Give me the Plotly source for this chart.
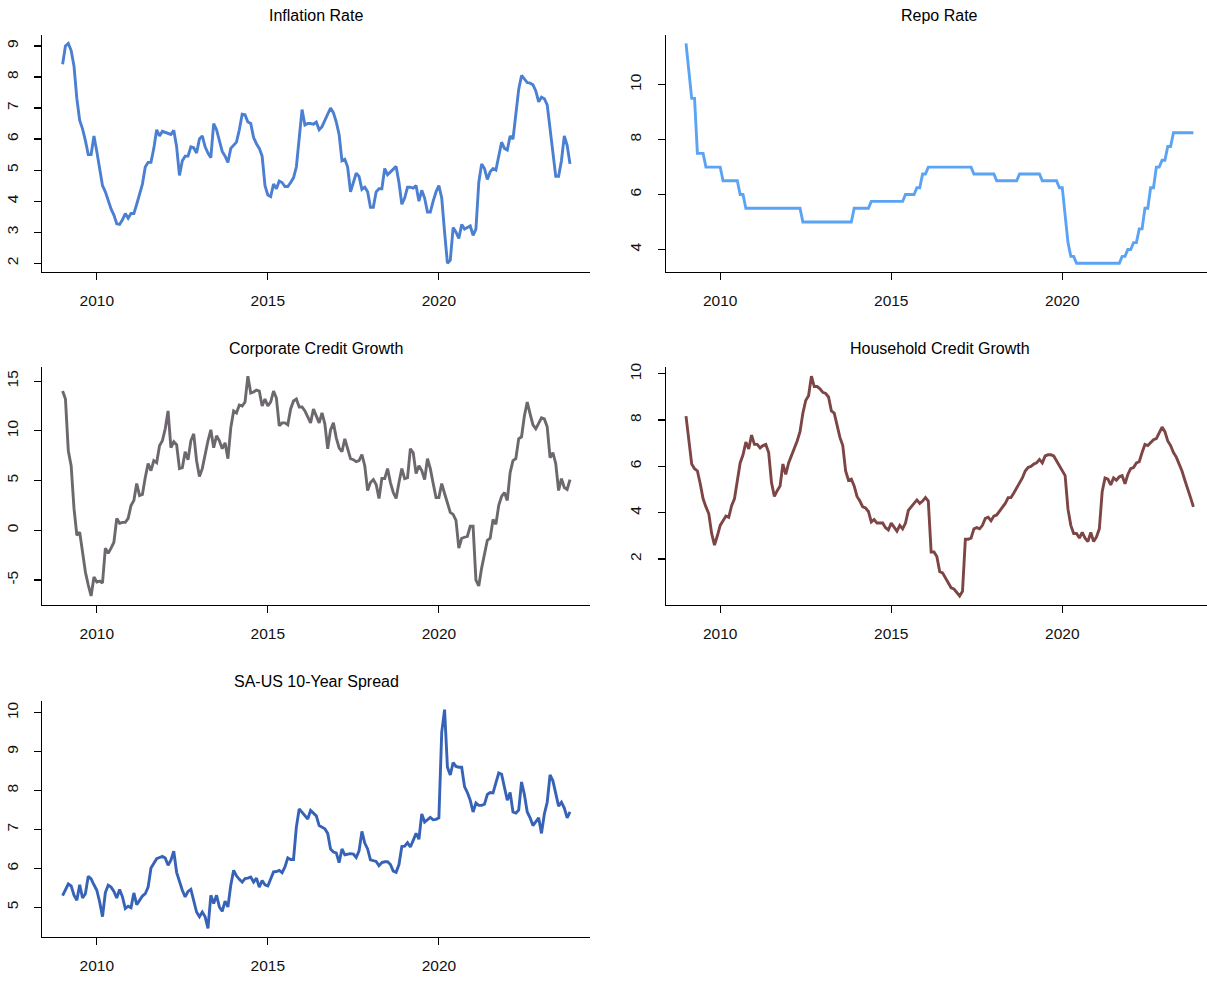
import plotly.graph_objects as go

# ---------------- data (monthly, Jan 2009 - Nov 2023) ----------------
start_year = 2009
tick_years = [2010, 2015, 2020]

inflation = [
    8.41, 9.0, 9.08, 8.85, 8.35, 7.3, 6.6, 6.33, 5.95, 5.5, 5.5, 6.1,
    5.6, 5.0, 4.5, 4.3, 4.0, 3.75, 3.55, 3.27, 3.25, 3.4, 3.6, 3.45,
    3.6, 3.6, 3.9, 4.2, 4.55, 5.1, 5.25, 5.25, 5.7, 6.3, 6.1, 6.25,
    6.22, 6.2, 6.15, 6.28, 5.75, 4.83, 5.3, 5.45, 5.45, 5.75, 5.72, 5.55,
    6.0, 6.1, 5.75, 5.55, 5.4, 6.5, 6.3, 5.95, 5.6, 5.45, 5.25, 5.7,
    5.8, 5.9, 6.3, 6.8, 6.78, 6.55, 6.5, 6.05, 5.85, 5.7, 5.45, 4.5,
    4.2, 4.15, 4.55, 4.4, 4.65, 4.6, 4.47, 4.47, 4.6, 4.75, 5.1, 6.0,
    6.95, 6.45, 6.5, 6.5, 6.48, 6.55, 6.3, 6.4, 6.6, 6.85, 7.0, 6.85,
    6.55, 6.15, 5.3, 5.35, 5.1, 4.3, 4.6, 4.9, 4.8, 4.38, 4.45, 4.3,
    3.8, 3.8, 4.3, 4.4, 4.4, 5.05, 4.85, 4.95, 5.05, 5.12, 4.6, 3.9,
    4.1, 4.45, 4.45, 4.42, 4.5, 4.0, 4.35, 4.1, 3.65, 3.65, 4.0, 4.3,
    4.5, 4.1, 3.0, 2.0, 2.1, 3.15, 3.0, 2.8, 3.25, 3.1, 3.15, 3.2,
    2.9, 3.1, 4.6, 5.2, 5.05, 4.7, 4.95, 5.05, 5.0, 5.45, 5.9, 5.7,
    5.65, 6.1, 6.0, 6.8, 7.6, 8.05, 7.95, 7.82, 7.8, 7.75, 7.55, 7.2,
    7.35, 7.3, 7.1, 6.3, 5.4, 4.8, 4.8, 5.3, 6.1, 5.8, 5.2,
]

repo_rate = [
    11.5, 10.5, 9.5, 9.5, 7.5, 7.5, 7.5, 7.0, 7.0, 7.0, 7.0, 7.0,
    7.0, 6.5, 6.5, 6.5, 6.5, 6.5, 6.5, 6.0, 6.0, 5.5, 5.5, 5.5,
    5.5, 5.5, 5.5, 5.5, 5.5, 5.5, 5.5, 5.5, 5.5, 5.5, 5.5, 5.5,
    5.5, 5.5, 5.5, 5.5, 5.5, 5.0, 5.0, 5.0, 5.0, 5.0, 5.0, 5.0,
    5.0, 5.0, 5.0, 5.0, 5.0, 5.0, 5.0, 5.0, 5.0, 5.0, 5.0, 5.5,
    5.5, 5.5, 5.5, 5.5, 5.5, 5.75, 5.75, 5.75, 5.75, 5.75, 5.75, 5.75,
    5.75, 5.75, 5.75, 5.75, 5.75, 6.0, 6.0, 6.0, 6.0, 6.25, 6.25, 6.75,
    6.75, 7.0, 7.0, 7.0, 7.0, 7.0, 7.0, 7.0, 7.0, 7.0, 7.0, 7.0,
    7.0, 7.0, 7.0, 7.0, 7.0, 6.75, 6.75, 6.75, 6.75, 6.75, 6.75, 6.75,
    6.75, 6.5, 6.5, 6.5, 6.5, 6.5, 6.5, 6.5, 6.5, 6.75, 6.75, 6.75,
    6.75, 6.75, 6.75, 6.75, 6.75, 6.5, 6.5, 6.5, 6.5, 6.5, 6.5, 6.25,
    6.25, 5.25, 4.25, 3.75, 3.75, 3.5, 3.5, 3.5, 3.5, 3.5, 3.5, 3.5,
    3.5, 3.5, 3.5, 3.5, 3.5, 3.5, 3.5, 3.5, 3.5, 3.75, 3.75, 4.0,
    4.0, 4.25, 4.25, 4.75, 4.75, 5.5, 5.5, 6.25, 6.25, 7.0, 7.0, 7.25,
    7.25, 7.75, 7.75, 8.25, 8.25, 8.25, 8.25, 8.25, 8.25, 8.25, 8.25,
]

corporate_credit = [
    14.0, 13.2, 8.0, 6.5, 2.2, -0.5, -0.2, -2.5, -4.2, -5.5, -6.6, -4.7,
    -5.2, -5.1, -5.3, -1.8, -2.3, -1.8, -1.2, 1.2, 0.7, 0.8, 0.8, 1.2,
    2.5, 3.0, 4.7, 3.5, 3.6, 5.3, 6.7, 6.0, 7.0, 6.8, 8.5, 9.0,
    10.2, 12.0, 8.3, 8.9, 8.6, 6.2, 6.3, 7.9, 7.1, 9.0, 9.7, 7.0,
    5.4, 6.2, 7.8, 9.0, 10.1, 8.3, 9.5, 9.0, 8.2, 8.8, 7.2, 10.3,
    12.0, 11.8, 12.6, 12.5, 12.9, 15.5, 13.8, 13.9, 14.1, 14.0, 12.5, 13.2,
    12.5, 12.9, 14.0, 13.3, 10.5, 10.8, 10.8, 10.6, 12.2, 13.0, 13.2, 12.4,
    12.4, 12.0, 11.4, 10.8, 12.2, 11.5, 10.8, 11.8, 10.7, 8.2, 10.1, 10.8,
    9.3, 8.3, 7.9, 9.2, 8.2, 7.2, 7.1, 6.9, 7.0, 7.6, 6.5, 4.0,
    4.8, 5.1, 4.6, 3.2, 5.2, 5.2, 6.2, 4.8, 3.8, 3.2, 4.8, 6.2,
    5.2, 5.3, 8.2, 7.8, 5.7, 6.5, 6.0, 5.1, 7.2, 6.2, 4.7, 3.3,
    3.3, 4.7, 3.7, 2.7, 1.8, 1.6, 1.0, -1.8, -0.8, -0.7, -0.6, 0.4,
    0.4, -5.0, -5.6, -3.8, -2.2, -1.0, -0.8, 1.1, 0.6, 2.5, 3.4, 3.8,
    3.0, 5.8, 7.0, 7.2, 9.2, 9.4, 11.5, 12.9, 11.7, 10.6, 10.2, 10.8,
    11.3, 11.2, 10.4, 7.3, 7.8, 6.7, 4.0, 5.2, 4.3, 4.1, 5.1,
]

household_credit = [
    8.17, 7.0, 6.1, 5.9, 5.8, 5.25, 4.6, 4.25, 3.95, 3.1, 2.6, 3.0,
    3.45, 3.65, 3.85, 3.8, 4.3, 4.6, 5.45, 6.15, 6.5, 7.05, 6.75, 7.35,
    6.95, 6.95, 6.8, 6.9, 6.95, 6.6, 5.3, 4.7, 4.95, 5.15, 6.1, 5.65,
    6.15, 6.45, 6.75, 7.1, 7.5, 8.3, 8.85, 9.05, 9.9, 9.45, 9.45, 9.35,
    9.2, 9.15, 9.0, 8.4, 8.3, 7.75, 7.25, 6.9, 5.8, 5.4, 5.45, 5.15,
    4.7, 4.5, 4.25, 4.2, 4.05, 3.6, 3.7, 3.55, 3.55, 3.55, 3.35, 3.25,
    3.55, 3.35, 3.2, 3.45, 3.3, 3.55, 4.1, 4.25, 4.4, 4.55, 4.4, 4.5,
    4.65, 4.5, 2.3, 2.3, 2.1, 1.45, 1.4, 1.2, 0.95, 0.75, 0.7, 0.55,
    0.4, 0.6, 2.85, 2.85, 2.9, 3.3, 3.35, 3.3, 3.45, 3.75, 3.8, 3.65,
    3.85, 3.9, 4.05, 4.2, 4.4, 4.65, 4.65, 4.85, 5.05, 5.25, 5.5, 5.8,
    5.95, 6.0, 6.1, 6.15, 6.3, 6.15, 6.45, 6.5, 6.5, 6.45, 6.25, 6.05,
    5.8, 5.6, 4.15, 3.45, 3.1, 3.1, 2.9, 3.15, 2.9, 2.75, 3.15, 2.75,
    2.95, 3.3, 4.9, 5.5, 5.45, 5.2, 5.5, 5.4, 5.55, 5.6, 5.25, 5.65,
    5.9, 5.95, 6.15, 6.2, 6.6, 6.95, 6.9, 7.05, 7.15, 7.2, 7.45, 7.7,
    7.5, 7.1, 6.9, 6.6, 6.4, 6.1, 5.8, 5.4, 5.05, 4.65, 4.25,
]

sa_us_spread = [
    5.3, 5.44, 5.6, 5.55, 5.31, 5.18, 5.58, 5.24, 5.35, 5.8, 5.73, 5.58,
    5.44, 5.14, 4.76, 5.38, 5.57, 5.52, 5.41, 5.24, 5.46, 5.27, 4.97, 5.03,
    4.99, 5.37, 5.07, 5.18, 5.29, 5.35, 5.52, 6.01, 6.12, 6.25, 6.28, 6.31,
    6.27, 6.08, 6.21, 6.44, 5.9, 5.65, 5.44, 5.27, 5.41, 5.46, 5.18, 4.88,
    4.76, 4.88, 4.76, 4.46, 5.31, 5.1, 5.31, 5.01, 4.9, 5.16, 5.01, 5.57,
    5.95, 5.81, 5.72, 5.65, 5.74, 5.75, 5.78, 5.65, 5.75, 5.52, 5.69, 5.58,
    5.55, 5.75, 5.91, 5.92, 5.95, 5.89, 6.04, 6.27, 6.23, 6.23, 7.06, 7.53,
    7.44, 7.38, 7.27, 7.49, 7.42, 7.35, 7.1, 7.07, 7.02, 6.9, 6.5, 6.42,
    6.4, 6.15, 6.5, 6.35, 6.37, 6.38, 6.37, 6.28, 6.45, 6.95, 6.65, 6.5,
    6.22, 6.2, 6.18, 6.07, 6.15, 6.17, 6.17, 6.1, 5.93, 5.9, 6.1, 6.56,
    6.57, 6.66, 6.55, 6.72, 6.9, 6.75, 7.4, 7.19, 7.25, 7.31, 7.25, 7.26,
    7.3, 9.5, 10.08, 8.6, 8.4, 8.72, 8.62, 8.6, 8.6, 8.1, 7.95, 7.75,
    7.45, 7.68, 7.62, 7.62, 7.65, 7.9, 7.95, 7.94, 8.2, 8.45, 8.42, 8.1,
    7.75, 7.95, 7.45, 7.42, 7.5, 8.22, 7.9, 7.45, 7.3, 7.1, 7.2, 7.3,
    6.9, 7.4, 7.7, 8.4, 8.25, 7.95, 7.6, 7.7, 7.55, 7.3, 7.45,
]

titles = ["Inflation Rate", "Repo Rate", "Corporate Credit Growth",
          "Household Credit Growth", "SA-US 10-Year Spread"]
series = [inflation, repo_rate, corporate_credit, household_credit, sa_us_spread]
colors = ["#4a7fd1", "#5ba4f4", "#6d686e", "#7e4545", "#3663b7"]
y_ticks = [[2, 3, 4, 5, 6, 7, 8, 9], [4, 6, 8, 10], [-5, 0, 5, 10, 15],
           [2, 4, 6, 8, 10], [5, 6, 7, 8, 9, 10]]

# ---------------- layout (pixel geometry) ----------------
W, H = 1207, 981
cols = [(42.3, 590.3), (665.7, 1213.7)]
rows = [(29.8, 268.4), (364.2, 602.8), (699.4, 936.9)]
title_y = [10.5, 345, 680]

fig = go.Figure()
font_family = "Liberation Sans, Arial, Helvetica, sans-serif"

for k, (title, vals, col, yt) in enumerate(zip(titles, series, colors, y_ticks)):
    r, c = divmod(k, 2)
    left, right_full = cols[c]
    top, bottom = rows[r]
    n = len(vals)
    t = [start_year + i / 12 for i in range(n)]
    span = t[-1] - t[0]
    xr0 = t[0] - 0.04 * span
    xr1_full = t[-1] + 0.04 * span
    right = min(right_full, W)
    xr1 = xr0 + (xr1_full - xr0) * (right - left) / (right_full - left)
    vmin, vmax = min(vals), max(vals)
    vs = vmax - vmin
    yr = [vmin - 0.04 * vs, vmax + 0.04 * vs]

    idx = "" if k == 0 else str(k + 1)
    fig.add_trace(go.Scatter(
        x=t, y=vals, mode="lines",
        line=dict(color=col, width=2.9),
        xaxis="x" + idx, yaxis="y" + idx, showlegend=False,
        hoverinfo="skip",
    ))
    common = dict(
        showline=True, linecolor="#000000", linewidth=1.2,
        ticks="outside", ticklen=7, tickwidth=1.2, tickcolor="#000000",
        showgrid=False, zeroline=False, mirror=False,
        tickfont=dict(family=font_family, size=15.5, color="#111111"),
        fixedrange=True,
    )
    fig.layout["xaxis" + idx] = dict(
        domain=[left / W, right / W], range=[xr0, xr1],
        anchor="y" + idx,
        tickmode="array", tickvals=tick_years,
        ticktext=[str(y) for y in tick_years],
        ticklabelstandoff=7,
        **common,
    )
    fig.layout["yaxis" + idx] = dict(
        domain=[1 - bottom / H, 1 - top / H], range=yr,
        anchor="x" + idx,
        tickmode="array", tickvals=yt, ticktext=[str(v) for v in yt],
        tickangle=-90, ticklabelstandoff=10,
        **common,
    )
    fig.add_annotation(
        x=(left + right_full) / 2 / W, y=1 - title_y[r] / H,
        xref="paper", yref="paper", xanchor="center", yanchor="middle",
        text=title, showarrow=False,
        font=dict(family=font_family, size=16, color="#000000"),
    )

fig.update_layout(
    width=W, height=H,
    margin=dict(l=0, r=0, t=0, b=0),
    paper_bgcolor="white", plot_bgcolor="white",
    showlegend=False,
)

fig.write_html(
    "out.html",
    config={"displayModeBar": False, "staticPlot": True},
    post_script=(
        "document.documentElement.style.margin='0';"
        "document.body.style.margin='0';document.body.style.padding='0';"
        "document.body.style.overflow='hidden';"
        "var g=document.querySelector('.plotly-graph-div');"
        "g.style.position='absolute';g.style.top='0px';g.style.left='0px';"
    ),
)
